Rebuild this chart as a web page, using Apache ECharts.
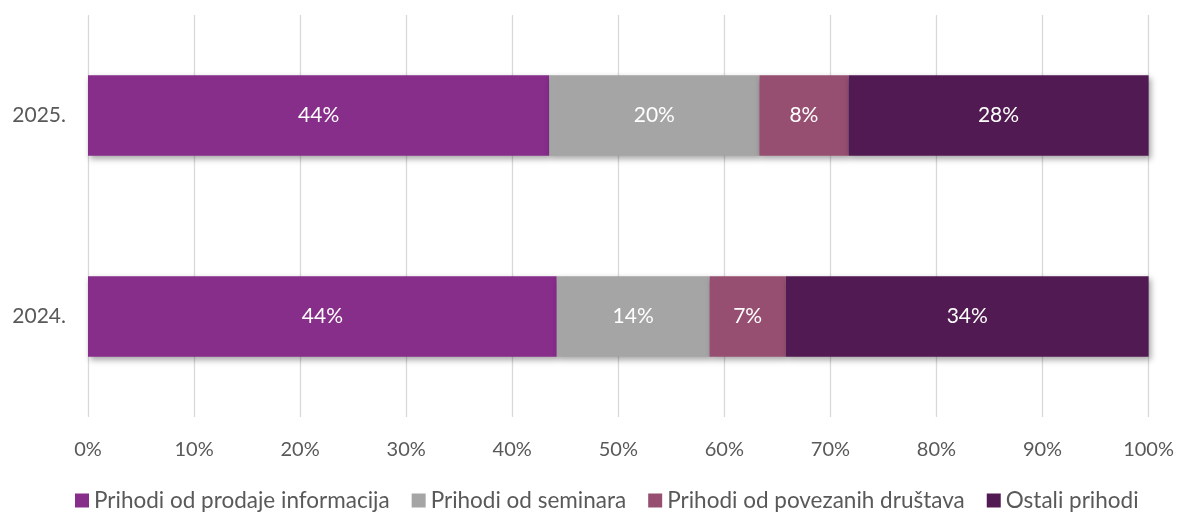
<!DOCTYPE html>
<html>
<head>
<meta charset="utf-8">
<script src="https://cdn.jsdelivr.net/npm/echarts@6/dist/echarts.min.js"></script>
<style>
    html, body { margin: 0; padding: 0; background: #fff; }
    #chart { width: 1177px; height: 513px; }
</style>
</head>
<body>
<div id="chart"></div>
<script>
    // categories, bottom to top
    var years = ['2024.', '2025.'];

    var seriesNames = ['Prihodi od prodaje informacija', 'Prihodi od seminara', 'Prihodi od povezanih društava', 'Ostali prihodi'];

    // shares in %, per year (2024, 2025)
    var prodaja = [44.2, 43.5];
    var seminari = [14.4, 19.8];
    var povezana = [7.2, 8.4];
    var ostali = [34.2, 28.3];

    var xTicks = [0, 10, 20, 30, 40, 50, 60, 70, 80, 90, 100];

    var colors = ['#872D8A', '#A5A5A5', '#974F71', '#521A52'];
    var font = 'Lato, "Open Sans", sans-serif';

    var myChart = echarts.init(document.getElementById('chart'));

    function makeSeries(name, data, color) {
        return {
            name: name,
            type: 'bar',
            stack: 'total',
            barWidth: '40%',
            data: data,
            itemStyle: {
                color: color,
                shadowColor: 'rgba(0,0,0,0.35)',
                shadowBlur: 6,
                shadowOffsetX: 2,
                shadowOffsetY: 3
            },
            label: {
                show: true,
                position: 'inside',
                color: '#fff',
                fontFamily: font,
                fontSize: 21,
                formatter: function (p) {
                    return Math.round(p.value) + '%';
                }
            }
        };
    }

    var option = {
        animation: false,
        color: colors,
        grid: {
            left: 88,
            right: 28,
            top: 15,
            height: 402
        },
        legend: {
            top: 484,
            left: 70,
            itemWidth: 14,
            itemHeight: 14,
            itemGap: 22,
            icon: 'rect',
            textStyle: {
                color: '#595959',
                fontFamily: font,
                fontSize: 22.5,
                padding: [0, 0, 0, 0]
            },
            data: seriesNames
        },
        xAxis: {
            type: 'value',
            min: 0,
            max: 100,
            interval: 10,
            axisLine: { show: false },
            axisTick: { show: false },
            splitLine: { lineStyle: { color: '#D9D9D9', width: 1.3 } },
            axisLabel: {
                color: '#595959',
                fontFamily: font,
                fontSize: 20,
                margin: 23,
                formatter: function (v) {
                    return xTicks.indexOf(v) >= 0 ? v + '%' : '';
                }
            }
        },
        yAxis: {
            type: 'category',
            data: years,
            axisLine: { show: false },
            axisTick: { show: false },
            axisLabel: {
                color: '#595959',
                fontFamily: font,
                fontSize: 21,
                margin: 22
            }
        },
        series: [
            makeSeries(seriesNames[0], prodaja, colors[0]),
            makeSeries(seriesNames[1], seminari, colors[1]),
            makeSeries(seriesNames[2], povezana, colors[2]),
            makeSeries(seriesNames[3], ostali, colors[3])
        ]
    };

    myChart.setOption(option);

    window.addEventListener('resize', function () {
        myChart.resize();
    });
</script>
</body>
</html>
